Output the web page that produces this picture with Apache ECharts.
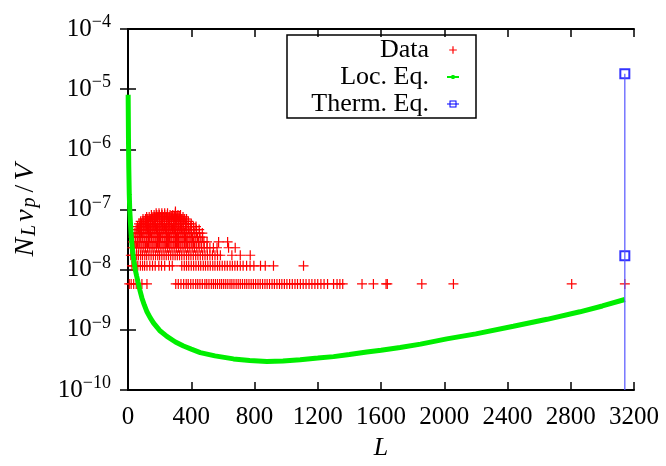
<!DOCTYPE html>
<html>
<head>
<meta charset="utf-8">
<script src="https://cdn.jsdelivr.net/npm/echarts@6/dist/echarts.min.js"></script>
<style>
html, body { margin: 0; padding: 0; background: #fff; }
#main { width: 666px; height: 466px; }
</style>
</head>
<body>
<div id="main"></div>
<script>
// 数据点的离散层级 (N_L v_p / V)
var dataLevels = [5.8e-9, 1.16e-8, 1.74e-8, 2.32e-8, 2.9e-8, 3.48e-8, 4.06e-8, 4.64e-8,
	5.22e-8, 5.8e-8, 6.38e-8, 6.96e-8, 7.54e-8, 8.12e-8, 8.7e-8, 9.28e-8];

// 每个层级上的 L 值
var dataL = [
	[8, 20, 36, 52, 88, 120, 302, 318, 335, 352, 368, 381, 397, 412, 428, 441, 455, 470, 486, 498, 512, 527, 540, 553, 566, 580, 592, 605, 618, 631, 645, 657, 670, 684, 697, 710, 724, 738, 751, 765, 779, 793, 807, 822, 836, 851, 866, 880, 895, 911, 926, 942, 958, 973, 989, 1005, 1022, 1039, 1056, 1072, 1090, 1108, 1126, 1145, 1163, 1182, 1200, 1220, 1240, 1262, 1300, 1322, 1340, 1358, 1480, 1552, 1632, 1640, 1858, 2058, 2806, 3142],
	[25, 38, 50, 62, 78, 92, 105, 120, 138, 155, 172, 195, 212, 232, 262, 280, 340, 356, 370, 384, 400, 415, 430, 446, 460, 476, 490, 505, 520, 536, 550, 566, 580, 596, 612, 628, 645, 660, 676, 692, 710, 728, 750, 772, 796, 838, 868, 920, 1110],
	[18, 30, 42, 55, 66, 80, 92, 106, 118, 132, 146, 160, 174, 188, 200, 214, 228, 242, 256, 270, 284, 298, 312, 326, 340, 355, 370, 384, 398, 413, 428, 442, 457, 472, 487, 502, 518, 534, 550, 566, 584, 657, 710, 773],
	[28, 40, 54, 68, 82, 96, 110, 124, 138, 152, 165, 180, 194, 208, 222, 236, 250, 264, 278, 292, 306, 320, 334, 348, 362, 377, 391, 406, 420, 435, 450, 466, 482, 500, 518, 540, 563, 636, 678],
	[32, 46, 60, 74, 88, 102, 116, 130, 145, 158, 172, 186, 200, 215, 229, 243, 257, 271, 286, 300, 314, 328, 342, 357, 371, 386, 400, 415, 430, 446, 462, 480, 500, 573, 630],
	[36, 50, 64, 78, 93, 107, 121, 135, 149, 164, 178, 192, 206, 220, 235, 249, 263, 277, 292, 306, 320, 335, 349, 364, 378, 393, 408, 424, 440, 456, 472],
	[44, 58, 72, 86, 100, 115, 129, 143, 157, 171, 186, 200, 214, 228, 243, 257, 271, 286, 300, 314, 329, 343, 358, 372, 387, 402, 418, 434, 452, 470],
	[52, 66, 80, 95, 109, 123, 137, 152, 166, 180, 195, 209, 223, 238, 252, 266, 281, 295, 310, 324, 338, 353, 368, 383, 399, 416, 432, 450],
	[60, 74, 88, 102, 117, 131, 146, 160, 174, 189, 203, 218, 232, 246, 261, 275, 290, 304, 319, 333, 348, 364, 380, 397, 414, 430],
	[70, 85, 100, 114, 129, 143, 158, 172, 187, 201, 216, 230, 245, 259, 274, 289, 303, 318, 333, 349, 366, 383, 400],
	[80, 95, 110, 125, 140, 154, 169, 184, 198, 213, 228, 242, 257, 272, 287, 302, 317, 333, 349, 366, 382],
	[95, 110, 125, 140, 156, 171, 186, 201, 216, 231, 246, 262, 277, 292, 308, 324, 340, 356, 370],
	[118, 134, 150, 166, 182, 198, 214, 230, 246, 262, 278, 294, 310, 328, 348],
	[148, 165, 182, 198, 215, 232, 249, 266, 283, 300, 316, 332],
	[178, 196, 214, 232, 250, 300],
	[300]
];

// Loc. Eq. 曲线
var locL = [1, 3, 5, 8, 11, 15, 20, 29, 38, 46, 55, 63, 75, 88, 103, 120, 140, 162, 200, 246, 300, 351, 400, 457, 550, 667, 770, 878, 980, 1089, 1200, 1300, 1400, 1510, 1600, 1721, 1850, 2016, 2200, 2437, 2650, 2858, 3000, 3142];
var locV = [8.1e-6, 1.5e-6, 5e-7, 1.8e-7, 1.0e-7, 6.3e-8, 3.8e-8, 2.0e-8, 1.35e-8, 1.0e-8, 7.8e-9, 6.3e-9, 4.6e-9, 3.4e-9, 2.6e-9, 2.0e-9, 1.6e-9, 1.3e-9, 9.8e-10, 7.8e-10, 6.3e-10, 5.4e-10, 4.8e-10, 4.2e-10, 3.7e-10, 3.3e-10, 3.1e-10, 3.0e-10, 3.05e-10, 3.2e-10, 3.4e-10, 3.6e-10, 3.9e-10, 4.3e-10, 4.6e-10, 5.1e-10, 5.8e-10, 7.1e-10, 8.6e-10, 1.15e-9, 1.5e-9, 2.0e-9, 2.5e-9, 3.2e-9];

// Therm. Eq. 脉冲
var thermL = [3142, 3142];
var thermV = [1.8e-5, 1.7e-8];

// 坐标轴范围
var xTicks = [0, 3200, 400];
var yRange = [1e-10, 1e-4];

var serifFont = '"Liberation Serif", "DejaVu Serif", serif';
var plusIcon = 'path://M0,0h0.01v0.01h-0.01Z M13.99,9.99h0.01v0.01h-0.01Z M6.4,1.2H7.6V4.4H10.8V5.6H7.6V8.8H6.4V5.6H3.2V4.4H6.4Z';
var locIcon = 'path://M0,0h0.01v0.01h-0.01Z M13.99,9.99h0.01v0.01h-0.01Z M1,4H13V6H1Z M5.5,3H8.5V7H5.5Z';
var thermIcon = 'path://M0,0h0.01v0.01h-0.01Z M13.99,9.99h0.01v0.01h-0.01Z M3.5,1.5H10.5V8.5H3.5Z M4.5,2.5V7.5H9.5V2.5Z M1,4.5H13V5.5H1Z';
var plusSymbol = 'path://M4.4,0H5.6V4.4H10V5.6H5.6V10H4.4V5.6H0V4.4H4.4Z';

function buildScatter() {
	var out = [];
	for (var i = 0; i < dataLevels.length; i++) {
		for (var j = 0; j < dataL[i].length; j++) {
			out.push([dataL[i][j], dataLevels[i]]);
		}
	}
	return out;
}

function zip(a, b) {
	var out = [];
	for (var i = 0; i < a.length; i++) out.push([a[i], b[i]]);
	return out;
}

// 脉冲线: 从坐标轴底部到数值
function buildImpulse() {
	var out = [];
	var top = 0;
	for (var i = 0; i < thermV.length; i++) {
		if (thermV[i] > thermV[top]) top = i;
	}
	out.push([thermL[top], yRange[0]]);
	out.push([thermL[top], thermV[top]]);
	return out;
}

function yLabel(v) {
	var e = Math.round(Math.log(v) / Math.LN10);
	return '{b|10}{s|\u2212' + (-e) + '}';
}

var axisLine = { show: true, lineStyle: { color: '#000', width: 2 } };
var axisTick = { show: true, inside: true, length: 8, lineStyle: { color: '#000', width: 1.5 } };

var chart = echarts.init(document.getElementById('main'));
var option = {
	animation: false,
	backgroundColor: '#fff',
	grid: { left: 128, right: 32, top: 29, bottom: 75 },
	legend: {
		left: 287, top: 35,
		orient: 'vertical',
		align: 'right',
		selectedMode: false,
		borderColor: '#000', borderWidth: 1.5,
		padding: [2, 16, 1, 2],
		itemGap: 1,
		itemWidth: 14, itemHeight: 10,
		textStyle: { fontFamily: serifFont, fontSize: 26, color: '#000', width: 140, align: 'right', lineHeight: 26, padding: [0, 12, 0, 0] },
		data: [
			{ name: 'Data', icon: plusIcon },
			{ name: 'Loc. Eq.', icon: locIcon },
			{ name: 'Therm. Eq.', icon: thermIcon }
		]
	},
	xAxis: [{
		type: 'value', min: xTicks[0], max: xTicks[1], interval: xTicks[2],
		name: 'L', nameLocation: 'middle', nameGap: 38,
		nameTextStyle: { fontFamily: serifFont, fontSize: 26, fontStyle: 'italic', color: '#000' },
		axisLine: axisLine, axisTick: axisTick, splitLine: { show: false },
		axisLabel: {
			fontFamily: serifFont, fontSize: 25, color: '#000', margin: 15,
			formatter: function(v) { return String(v); }
		}
	}, {
		type: 'value', position: 'top', min: xTicks[0], max: xTicks[1], interval: xTicks[2],
		axisLine: axisLine, axisTick: axisTick, splitLine: { show: false }, axisLabel: { show: false }
	}],
	yAxis: [{
		type: 'log', logBase: 10, min: yRange[0], max: yRange[1],
		name: '{i|N}{sub|L}{i|v}{sub|p}{r|/}{i|V}', nameLocation: 'middle', nameGap: 88, nameRotate: 90,
		nameTextStyle: {
			color: '#000',
			rich: {
				i: { fontFamily: serifFont, fontSize: 28, fontStyle: 'italic', color: '#000', padding: [0, 2, 0, 1] },
				r: { fontFamily: serifFont, fontSize: 28, color: '#000', padding: [0, 3, 0, 3] },
				sub: { fontFamily: serifFont, fontSize: 20, fontStyle: 'italic', color: '#000', padding: [9, 2, 0, 0] }
			}
		},
		axisLine: axisLine, axisTick: axisTick, splitLine: { show: false }, minorTick: { show: false },
		axisLabel: {
			margin: 17, formatter: yLabel,
			rich: {
				b: { fontFamily: serifFont, fontSize: 25, color: '#000', lineHeight: 25, verticalAlign: 'bottom' },
				s: { fontFamily: serifFont, fontSize: 18, color: '#000', lineHeight: 18, verticalAlign: 'bottom', padding: [0, 0, 10, 0] }
			}
		}
	}, {
		type: 'log', logBase: 10, min: yRange[0], max: yRange[1], position: 'right',
		axisLine: axisLine, axisTick: axisTick, splitLine: { show: false }, axisLabel: { show: false }
	}],
	series: [{
		name: 'Data', type: 'scatter',
		symbol: plusSymbol, symbolSize: 10,
		itemStyle: { color: '#ff0000', opacity: 1 },
		data: buildScatter()
	}, {
		name: 'Loc. Eq.', type: 'line',
		showSymbol: false, symbol: 'none',
		itemStyle: { color: '#00ee00' },
		lineStyle: { color: '#00ee00', width: 5 },
		data: zip(locL, locV)
	}, {
		name: 'Therm. Eq.', type: 'line',
		showSymbol: false, symbol: 'none',
		itemStyle: { color: '#0000ff' },
		lineStyle: { color: '#5555ff', width: 1.2 },
		data: buildImpulse()
	}, {
		name: 'Therm. Eq.', type: 'scatter',
		symbol: 'emptyRect', symbolSize: 9,
		itemStyle: { color: '#0000ff', borderWidth: 1.2 },
		data: zip(thermL, thermV)
	}]
};
chart.setOption(option);
</script>
</body>
</html>
